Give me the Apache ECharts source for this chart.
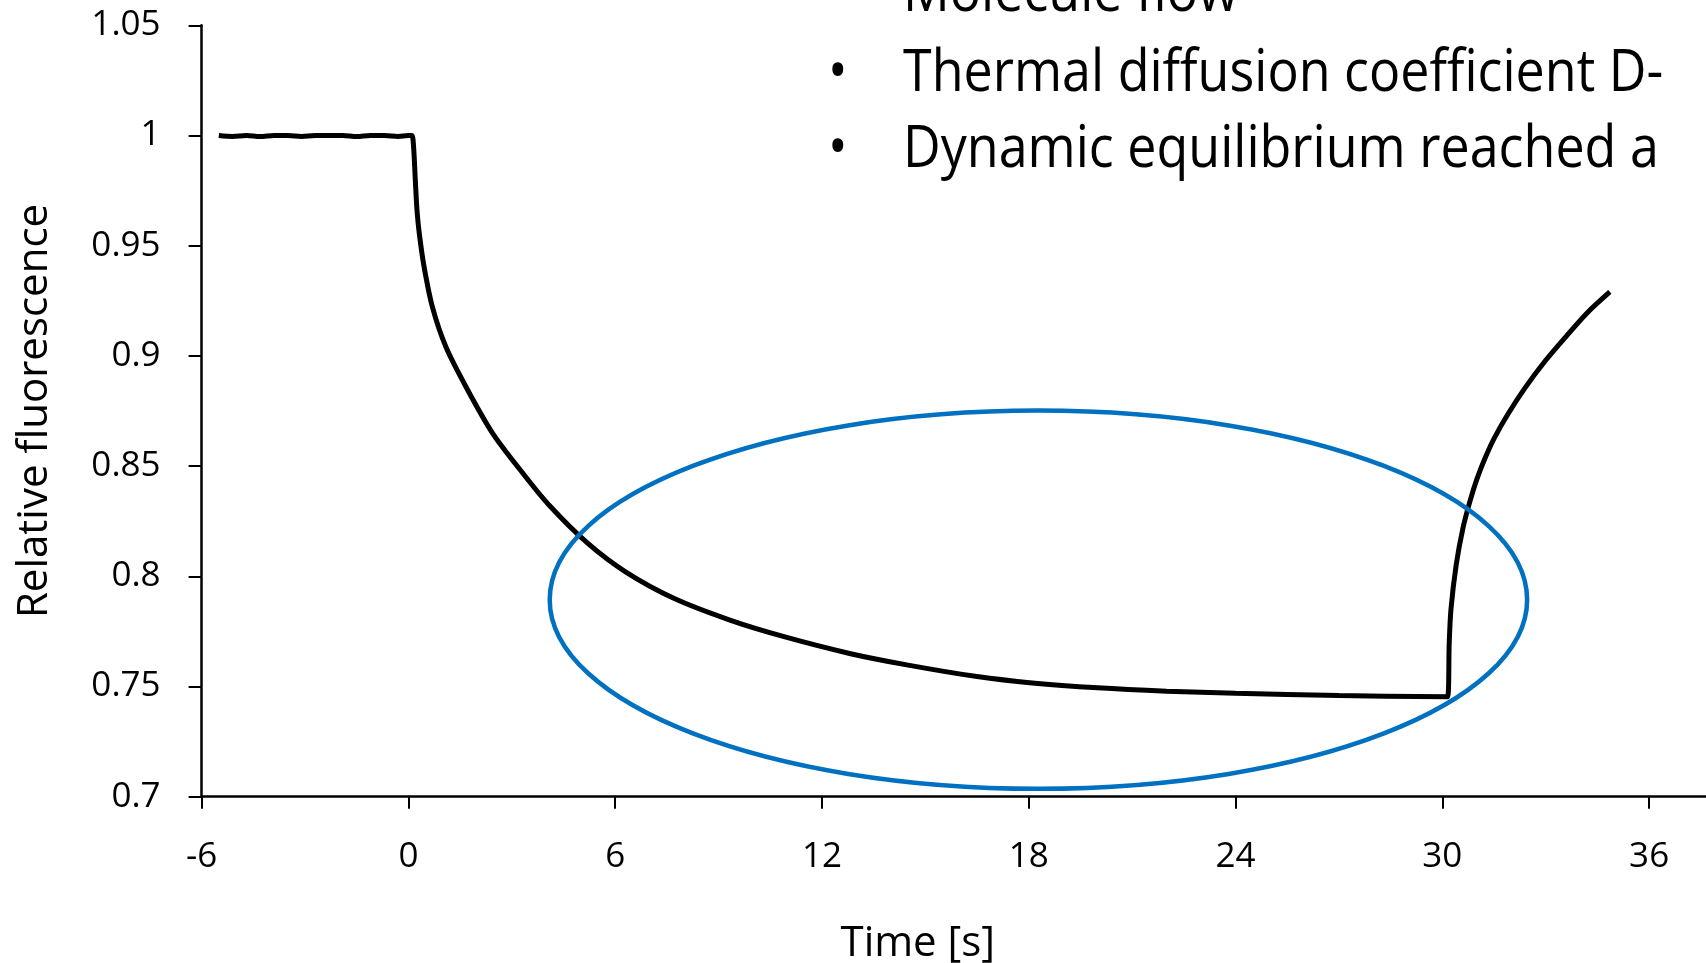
<!DOCTYPE html>
<html>
<head>
<meta charset="utf-8">
<script src="https://cdn.jsdelivr.net/npm/echarts@6/dist/echarts.min.js"></script>
<style>
  html, body { margin: 0; padding: 0; background: #ffffff; }
  #chart { width: 1706px; height: 963px; }
</style>
</head>
<body>
<div id="chart"></div>
<script>
// ---- data ----
const timeS = [-5.5, -5.1, -4.7, -4.3, -3.9, -3.5, -3.1, -2.7, -2.3, -1.9, -1.5, -1.1, -0.7, -0.3, 0.0, 0.1,
  0.15, 0.2, 0.25, 0.32, 0.46, 0.7, 1.09, 1.67, 2.44, 3.31, 4.1, 5.2, 6.3, 7.7, 9.35, 10.9, 12.8, 14.5,
  16.5, 18.1, 20.0, 22.0, 24.0, 27.0, 30.15,
  30.2, 30.25, 30.4, 30.6, 30.8, 31.0, 31.25, 31.5, 31.9, 32.4, 33.0, 33.6, 34.2, 34.86];
const fluor = [1.000, 0.9996, 1.000, 0.9995, 1.000, 1.000, 0.9996, 1.000, 1.000, 1.000, 0.9995, 1.000, 1.000, 0.9996, 1.000, 1.000,
  0.995, 0.980, 0.966, 0.955, 0.940, 0.922, 0.904, 0.886, 0.865, 0.847, 0.832, 0.815, 0.802, 0.790, 0.780, 0.7726, 0.765, 0.7597,
  0.7545, 0.7516, 0.7494, 0.7479, 0.7469, 0.7459, 0.7453,
  0.770, 0.785, 0.805, 0.822, 0.834, 0.844, 0.854, 0.8625, 0.8735, 0.8855, 0.898, 0.909, 0.9195, 0.929];

const yTicks = [0.7, 0.75, 0.8, 0.85, 0.9, 0.95, 1, 1.05];
const xTickStep = 6;

// annotation ellipse in data units: centre [time, fluorescence], radii [time, fluorescence]
const ellipseCenter = [18.28, 0.7894];
const ellipseRadii = [14.18, 0.0858];

// slide bullet text
const bulletLines = ['Molecule flow', 'Thermal diffusion coefficient D-', 'Dynamic equilibrium reached a'];

const FONT = '"Open Sans", "Noto Sans", sans-serif';
const chart = echarts.init(document.getElementById('chart'), null, { renderer: 'canvas' });

const seriesData = timeS.map((t, i) => [t, fluor[i]]);

chart.setOption({
  animation: false,
  backgroundColor: '#ffffff',
  grid: { left: 201.6, top: 25.3, right: 0, height: 771.4, containLabel: false, outerBoundsMode: 'none' },
  xAxis: {
    type: 'value', min: -6, max: 37.65, interval: xTickStep,
    name: 'Time [s]', nameLocation: 'middle', nameGap: 126,
    nameTextStyle: { fontFamily: FONT, fontSize: 42, color: '#000', padding: [0, 72, 0, 0] },
    axisLine: { show: true, onZero: false, lineStyle: { color: '#000', width: 2.5 } },
    axisTick: { show: true, inside: false, length: 12, lineStyle: { color: '#000', width: 2 } },
    axisLabel: { fontFamily: FONT, fontSize: 35, color: '#000', margin: 43, showMaxLabel: false },
    splitLine: { show: false }
  },
  yAxis: {
    type: 'value', min: 0.7, max: 1.05, interval: 0.05,
    name: 'Relative fluorescence', nameLocation: 'middle', nameGap: 146,
    nameTextStyle: { fontFamily: FONT, fontSize: 42, color: '#000' },
    axisLine: { show: true, onZero: false, lineStyle: { color: '#000', width: 2.5 } },
    axisTick: { show: true, inside: false, length: 13, lineStyle: { color: '#000', width: 2 } },
    axisLabel: {
      fontFamily: FONT, fontSize: 35, color: '#000', margin: 41,
      formatter: v => {
        const hit = yTicks.find(t => Math.abs(t - v) < 1e-9);
        return hit === undefined ? '' : String(+hit.toFixed(2));
      }
    },
    splitLine: { show: false }
  },
  series: [{
    type: 'line',
    data: seriesData,
    showSymbol: false,
    smooth: 0.3,
    lineStyle: { color: '#000', width: 5 },
    z: 3
  }]
});

function drawOverlay() {
  const c = chart.convertToPixel({ gridIndex: 0 }, ellipseCenter);
  const e = chart.convertToPixel({ gridIndex: 0 }, [ellipseCenter[0] + ellipseRadii[0], ellipseCenter[1] + ellipseRadii[1]]);
  const rx = Math.abs(e[0] - c[0]);
  const ry = Math.abs(c[1] - e[1]);
  const textStyle = { fontFamily: FONT, fontSize: 52, fill: '#000', verticalAlign: 'middle', align: 'left' };
  const sy = 1.12;
  chart.setOption({
    graphic: [
      { type: 'ellipse', shape: { cx: c[0], cy: c[1], rx: rx, ry: ry },
        style: { fill: null, stroke: '#0070C0', lineWidth: 4.5 }, z: 10 },
      { type: 'text', x: 903, y: -6, scaleY: sy, style: Object.assign({}, textStyle, { text: bulletLines[0] }), z: 5 },
      { type: 'text', x: 828, y: 74, scaleY: sy, style: Object.assign({}, textStyle, { text: '•' }), z: 5 },
      { type: 'text', x: 903, y: 74, scaleY: sy, style: Object.assign({}, textStyle, { text: bulletLines[1] }), z: 5 },
      { type: 'text', x: 828, y: 150, scaleY: sy, style: Object.assign({}, textStyle, { text: '•' }), z: 5 },
      { type: 'text', x: 903, y: 150, scaleY: sy, style: Object.assign({}, textStyle, { text: bulletLines[2] }), z: 5 }
    ]
  });
}
drawOverlay();
</script>
</body>
</html>
